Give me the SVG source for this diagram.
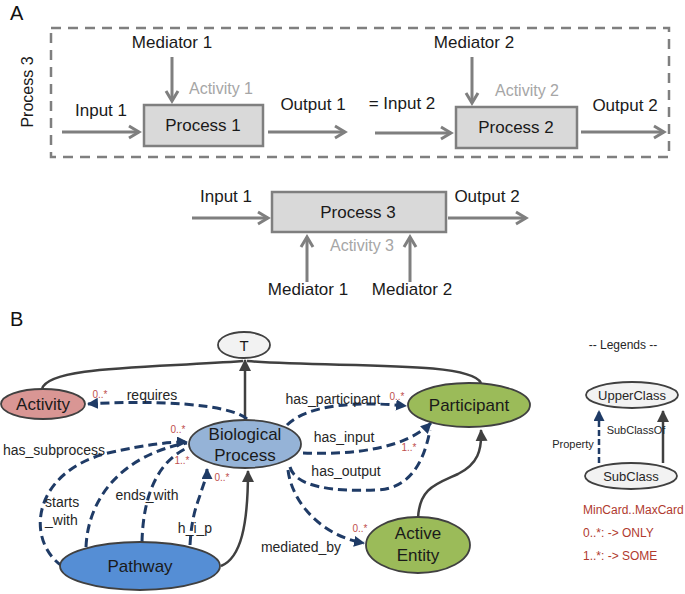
<svg xmlns="http://www.w3.org/2000/svg" width="685" height="594" viewBox="0 0 685 594">
<style>
  text { font-family: "Liberation Sans", Arial, sans-serif; }
  .lbl { font-size: 17px; fill: #1a1a1a; text-anchor: middle; }
  .act { font-size: 16px; fill: #a6a6a6; text-anchor: middle; }
  .box { fill: #d9d9d9; stroke: #7f7f7f; stroke-width: 2.5; }
  .ga { stroke: #7f7f7f; stroke-width: 3; fill: none; marker-end: url(#gah); }
  .sol { stroke: #404040; stroke-width: 2.5; fill: none; }
  .dsh { stroke: #1f3b66; stroke-width: 3; fill: none; stroke-dasharray: 9 5; }
  .node { stroke: #404040; stroke-width: 1.8; }
  .nt { font-size: 17px; fill: #1a1a1a; text-anchor: middle; }
  .el { font-size: 14px; fill: #262626; text-anchor: middle; }
  .card { font-size: 10px; fill: #c0504d; text-anchor: middle; }
  .leg { font-size: 12px; fill: #b03a2e; }
</style>
<defs>
  <marker id="gah" markerUnits="userSpaceOnUse" markerWidth="16" markerHeight="16" refX="12" refY="8" orient="auto">
    <path d="M2,2 L12,8 L2,14" stroke="#7f7f7f" stroke-width="3" fill="none" stroke-linejoin="miter"/>
  </marker>
  <marker id="dkh" markerUnits="userSpaceOnUse" markerWidth="14" markerHeight="14" refX="11" refY="6" orient="auto">
    <path d="M0,0 L12,6 L0,12 z" fill="#404040"/>
  </marker>
  <marker id="nvh" markerUnits="userSpaceOnUse" markerWidth="14" markerHeight="14" refX="10" refY="5.5" orient="auto">
    <path d="M0,0 L11,5.5 L0,11 z" fill="#1f3b66"/>
  </marker>
</defs>

<!-- Part A -->
<text x="10" y="20" style="font-size:20px;fill:#111">A</text>
<g id="process3-frame">
  <rect x="51" y="28" width="618" height="129" fill="none" stroke="#7f7f7f" stroke-width="2.5" stroke-dasharray="10 7"/>
  <text transform="translate(33,92) rotate(-90)" class="lbl" style="font-size:16px">Process 3</text>
</g>
<g id="process1">
  <rect class="box" x="144" y="105" width="119" height="41"/>
  <text class="nt" x="203" y="131">Process 1</text>
  <text class="act" x="221" y="94">Activity 1</text>
</g>
<g id="process2">
  <rect class="box" x="456" y="107" width="121" height="41"/>
  <text class="nt" x="516" y="133">Process 2</text>
  <text class="act" x="527" y="96">Activity 2</text>
</g>
<g id="process3">
  <rect class="box" x="272" y="192" width="174" height="40"/>
  <text class="nt" x="358" y="218">Process 3</text>
  <text class="act" x="362" y="251">Activity 3</text>
</g>
<g id="a-connectors">
  <path class="ga" d="M62,132 L139,132"/>
  <path class="ga" d="M172,57 L172,101"/>
  <path class="ga" d="M268,132 L345,132"/>
  <path class="ga" d="M375,133 L451,133"/>
  <path class="ga" d="M472,57 L472,103"/>
  <path class="ga" d="M581,132 L664,132"/>
  <path class="ga" d="M192,218 L268,218"/>
  <path class="ga" d="M448,218 L526,218"/>
  <path class="ga" d="M307,282 L307,237"/>
  <path class="ga" d="M410,282 L410,237"/>
</g>
<g id="a-labels">
  <text class="lbl" x="172" y="48">Mediator 1</text>
  <text class="lbl" x="101" y="116">Input 1</text>
  <text class="lbl" x="313" y="110">Output 1</text>
  <text class="lbl" x="402" y="109">= Input 2</text>
  <text class="lbl" x="474" y="48">Mediator 2</text>
  <text class="lbl" x="625" y="111">Output 2</text>
  <text class="lbl" x="226" y="202">Input 1</text>
  <text class="lbl" x="487" y="202">Output 2</text>
  <text class="lbl" x="308" y="295">Mediator 1</text>
  <text class="lbl" x="412" y="295">Mediator 2</text>
</g>

<!-- Part B -->
<text x="10" y="326" style="font-size:20px;fill:#111">B</text>
<g id="b-connectors">
  <!-- solid subclass lines -->
  <path class="sol" d="M245,420 L245,360" marker-end="url(#dkh)"/>
  <path class="sol" d="M42,389 C48,366 150,368 243,361"/>
  <path class="sol" d="M481,383 C470,360 330,368 247,361"/>
  <path class="sol" d="M418,519 C419,488 436,484 458,474 C478,464 482,450 481,430" marker-end="url(#dkh)"/>
  <path class="sol" d="M221,566 C241,558 248,525 248,471" marker-end="url(#dkh)"/>
  <!-- dashed properties -->
  <path class="dsh" d="M247,419 C228,403 150,400 88,404" marker-end="url(#nvh)"/>
  <path class="dsh" d="M287,425 C308,404 360,401 406,406" marker-end="url(#nvh)"/>
  <path class="dsh" d="M303,453 C352,455 405,449 431,423" marker-end="url(#nvh)"/>
  <path class="dsh" d="M290,467 C295,486 330,492 378,490 C410,488 424,462 430,430"/>
  <path class="dsh" d="M288,470 C292,503 322,536 364,543" marker-end="url(#nvh)"/>
  <path class="dsh" d="M62,566 C25,540 32,472 108,453 C148,444 170,442 187,442" marker-end="url(#nvh)"/>
  <path class="dsh" d="M86,547 C88,498 122,455 187,443"/>
  <path class="dsh" d="M142,542 C143,500 155,462 189,447"/>
  <path class="dsh" d="M190,545 C192,512 198,503 201,492 C205,480 207,476 207,469" marker-end="url(#nvh)"/>
</g>
<g id="node-T">
  <ellipse class="node" cx="244" cy="345" rx="26" ry="13" fill="#f2f2f2"/>
  <text class="nt" x="244" y="351" style="font-size:15px">T</text>
</g>
<g id="node-activity">
  <ellipse class="node" cx="43" cy="404" rx="42" ry="15" fill="#d99694"/>
  <text class="nt" x="43" y="410">Activity</text>
</g>
<g id="node-biological-process">
  <ellipse class="node" cx="245" cy="444" rx="56" ry="24" fill="#95b3d7"/>
  <text class="nt" x="245" y="440">Biological</text>
  <text class="nt" x="245" y="461">Process</text>
</g>
<g id="node-participant">
  <ellipse class="node" cx="469" cy="405" rx="61" ry="22" fill="#9bbb59"/>
  <text class="nt" x="469" y="411">Participant</text>
</g>
<g id="node-active-entity">
  <ellipse class="node" cx="418" cy="545" rx="52" ry="28" fill="#9bbb59"/>
  <text class="nt" x="418" y="539">Active</text>
  <text class="nt" x="418" y="561">Entity</text>
</g>
<g id="node-pathway">
  <ellipse class="node" cx="140" cy="566" rx="80" ry="24" fill="#558ed5"/>
  <text class="nt" x="140" y="572">Pathway</text>
</g>
<g id="b-labels">
  <text class="el" x="152" y="400">requires</text>
  <text class="card" x="100" y="398">0..*</text>
  <text class="el" x="333" y="404">has_participant</text>
  <text class="card" x="397" y="400">0..*</text>
  <text class="el" x="344" y="442">has_input</text>
  <text class="card" x="409" y="451">1..*</text>
  <text class="el" x="346" y="476">has_output</text>
  <text class="el" x="301" y="552">mediated_by</text>
  <text class="card" x="360" y="532">0..*</text>
  <text class="el" x="54" y="455">has_subprocess</text>
  <text class="el" x="45" y="507" style="text-anchor:start">starts</text>
  <text class="el" x="45" y="525" style="text-anchor:start">_with</text>
  <text class="el" x="147" y="500">ends_with</text>
  <text class="el" x="195" y="533">h_i_p</text>
  <text class="card" x="178" y="433">0..*</text>
  <text class="card" x="182" y="464">1..*</text>
  <text class="card" x="222" y="481">0..*</text>
</g>

<!-- Legend -->
<g id="legend">
  <text x="623" y="349" style="font-size:12px;fill:#262626;text-anchor:middle">-- Legends --</text>
  <path d="M599,463 L599,411" stroke="#1f3b66" stroke-width="2.5" stroke-dasharray="6 3" fill="none" marker-end="url(#nvh)"/>
  <path d="M663,463 L663,411" stroke="#404040" stroke-width="2.5" fill="none" marker-end="url(#dkh)"/>
  <g id="legend-upperclass">
    <ellipse class="node" cx="632" cy="395" rx="46" ry="13" fill="#f2f2f2"/>
    <text x="632" y="400" style="font-size:13px;fill:#262626;text-anchor:middle">UpperClass</text>
  </g>
  <g id="legend-subclass">
    <ellipse class="node" cx="631" cy="476" rx="46" ry="13" fill="#f2f2f2"/>
    <text x="631" y="481" style="font-size:13px;fill:#262626;text-anchor:middle">SubClass</text>
  </g>
  <text x="573" y="448" style="font-size:11px;fill:#262626;text-anchor:middle">Property</text>
  <text x="636" y="434" style="font-size:11px;fill:#262626;text-anchor:middle">SubClassOf</text>
  <text class="leg" x="583" y="514">MinCard..MaxCard</text>
  <text class="leg" x="583" y="537">0..*:  -&gt; ONLY</text>
  <text class="leg" x="583" y="560">1..*:  -&gt; SOME</text>
</g>
</svg>
